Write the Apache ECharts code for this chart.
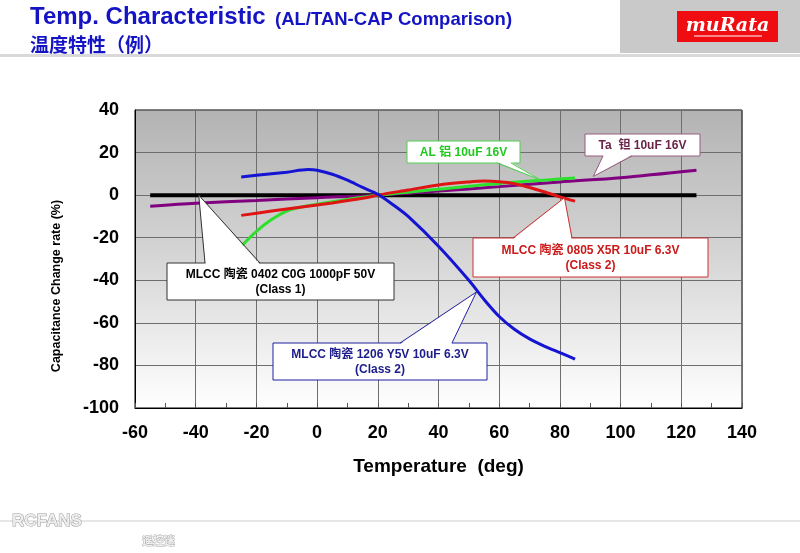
<!DOCTYPE html>
<html><head><meta charset="utf-8">
<script src="https://cdn.jsdelivr.net/npm/echarts/dist/echarts.min.js"></script>
<style>html,body{margin:0;padding:0;background:#fff}#c{width:800px;height:553px}</style>
</head><body><div id="c"></div>
<script>
// ---------- data ----------
const xTickLabels = [-60, -40, -20, 0, 20, 40, 60, 80, 100, 120, 140];
const yTickLabels = [-100, -80, -60, -40, -20, 0, 20, 40];

const c0gTemp = [-55, 125];
const c0gVal  = [0, 0];

const taTemp = [-55, -40, -20, 0, 20, 40, 60, 80, 100, 125];
const taVal  = [-5.2, -3.8, -2.5, -1.2, 0, 1.9, 4.0, 6.2, 8.2, 11.7];

const alTemp = [-25, -20, -15, -10, -5, 0, 10, 20, 40, 60, 85];
const alVal  = [-24, -17, -11.5, -7.5, -5.5, -4.3, -2, 0, 2.8, 5.5, 8];

const x5rTemp = [-25, -15, -5, 5, 15, 20, 30, 40, 50, 55, 60, 65, 70, 75, 80, 85];
const x5rVal  = [-9.5, -7.5, -5.6, -3.7, -1.5, 0, 2.4, 4.8, 6.2, 6.6, 6.3, 5.4, 3.6, 1.5, -0.8, -2.8];

const y5vTemp = [-25, -20, -10, -3, 0, 5, 10, 15, 20, 25, 30, 40, 50, 55, 60, 65, 70, 75, 80, 85];
const y5vVal  = [8.5, 9.3, 10.8, 12, 11.7, 9.8, 7, 3.6, 0.4, -4.5, -10, -24, -40, -49, -57, -63, -67.5, -71, -74, -77];

const calloutTexts = [
  'MLCC 陶瓷 0402 C0G 1000pF 50V\n(Class 1)',
  'MLCC 陶瓷 1206 Y5V 10uF 6.3V\n(Class 2)',
  'MLCC 陶瓷 0805 X5R 10uF 6.3V\n(Class 2)',
  'AL 铝 10uF 16V',
  'Ta  钽 10uF 16V'
];
const calloutAnchors = [[-39, 0], [52.5, -45.5], [81.5, -1.2], [73.5, 7.2], [91, 8.8]];

// ---------- chart ----------
const pairs = (xs, ys) => xs.map((x, i) => [x, ys[i]]);
const FONT = '"Liberation Sans", Arial, "Noto Sans CJK SC", sans-serif';
const chart = echarts.init(document.getElementById('c'), null, {renderer: 'canvas'});

const lineSeries = (name, xs, ys, color, w, smooth) => ({
  name, type: 'line', data: pairs(xs, ys), symbol: 'none', smooth: smooth,
  lineStyle: {color, width: w}, itemStyle: {color}, silent: true, animation: false
});

chart.setOption({
  animation: false,
  backgroundColor: '#ffffff',
  grid: {
    left: 135, top: 110, width: 607, height: 298, show: true,
    borderColor: '#000', borderWidth: 1,
    backgroundColor: new echarts.graphic.LinearGradient(0, 0, 0, 1, [
      {offset: 0, color: '#b3b3b3'}, {offset: 0.5, color: '#d6d6d6'}, {offset: 1, color: '#ffffff'}
    ])
  },
  xAxis: {
    type: 'value', min: xTickLabels[0], max: xTickLabels[xTickLabels.length - 1], interval: 20,
    axisLine: {show: true, onZero: false, lineStyle: {color: '#000', width: 1}},
    axisTick: {show: true, inside: true, length: 5, lineStyle: {color: '#555'}},
    minorTick: {show: true, splitNumber: 2, length: 5, lineStyle: {color: '#555'}},
    splitLine: {show: true, lineStyle: {color: '#6e6e6e', width: 1}},
    axisLabel: {color: '#000', fontFamily: FONT, fontWeight: 'bold', fontSize: 18, margin: 16},
    name: 'Temperature  (deg)', nameLocation: 'middle', nameGap: 49,
    nameTextStyle: {color: '#000', fontFamily: FONT, fontWeight: 'bold', fontSize: 19}
  },
  yAxis: {
    type: 'value', min: yTickLabels[0], max: yTickLabels[yTickLabels.length - 1], interval: 20,
    axisLine: {show: true, onZero: false, lineStyle: {color: '#000', width: 1}},
    axisTick: {show: false},
    splitLine: {show: true, lineStyle: {color: '#6e6e6e', width: 1}},
    axisLabel: {color: '#000', fontFamily: FONT, fontWeight: 'bold', fontSize: 18, margin: 16}
  },
  series: [
    lineSeries('C0G', c0gTemp, c0gVal, '#000000', 4, false),
    lineSeries('Ta', taTemp, taVal, '#800080', 3, 0.3),
    lineSeries('AL', alTemp, alVal, '#2ee02e', 3, 0.3),
    lineSeries('X5R', x5rTemp, x5rVal, '#e01414', 3, 0.3),
    lineSeries('Y5V', y5vTemp, y5vVal, '#1414d2', 3, 0.3)
  ]
});

// ---------- header / decorations / callouts ----------
const g = [];
g.push({type: 'rect', shape: {x: 620, y: 0, width: 180, height: 53}, style: {fill: '#c9c9c9'}, z: 1});
g.push({type: 'rect', shape: {x: 677, y: 11, width: 101, height: 31}, style: {fill: '#f00d12'}, z: 2});
g.push({type: 'text', x: 727.5, y: 26, style: {text: 'muRata', align: 'center', verticalAlign: 'middle',
  font: 'italic bold 19px "DejaVu Serif", "Liberation Serif", serif', fill: '#fff'}, z: 3});
g.push({type: 'line', shape: {x1: 694, y1: 36, x2: 762, y2: 36}, style: {stroke: '#fff', lineWidth: 1}, z: 3});
g.push({type: 'rect', shape: {x: 0, y: 54, width: 800, height: 3}, style: {fill: '#d9d9d9'}, z: 1});
g.push({type: 'text', x: 30, y: 17, style: {text: 'Temp. Characteristic', verticalAlign: 'middle',
  font: 'bold 24px ' + FONT, fill: '#1414c4'}, z: 3});
g.push({type: 'text', x: 275, y: 19.5, style: {text: '(AL/TAN-CAP Comparison)', verticalAlign: 'middle',
  font: 'bold 18.5px ' + FONT, fill: '#1414c4'}, z: 3});
g.push({type: 'text', x: 30, y: 45, style: {text: '温度特性（例）', verticalAlign: 'middle',
  font: 'bold 19px "Noto Sans CJK SC", sans-serif', fill: '#1414c4'}, z: 3});
g.push({type: 'text', x: 57, y: 286, rotation: Math.PI / 2, style: {text: 'Capacitance Change rate (%)',
  align: 'center', verticalAlign: 'middle', font: 'bold 12.5px ' + FONT, fill: '#000'}, z: 3});
g.push({type: 'rect', shape: {x: 0, y: 520, width: 800, height: 2}, style: {fill: '#e6e6e6'}, z: 1});
g.push({type: 'text', x: 12, y: 521, style: {text: 'RCFANS', verticalAlign: 'middle',
  font: 'bold 17px ' + FONT, fill: '#eeeeee', stroke: '#9a9a9a', lineWidth: 1}, z: 3});
g.push({type: 'text', x: 142, y: 541, style: {text: '遥控迷', verticalAlign: 'middle',
  font: 'bold 11px "Noto Sans CJK SC", sans-serif', fill: '#f0f0f0', stroke: '#a8a8a8', lineWidth: 0.8}, z: 3});

const calloutLayout = [
  {box: [167, 263, 227, 37], base: [205, 260], edge: 'top', stroke: '#333', color: '#000'},
  {box: [273, 343, 214, 37], base: [400, 452], edge: 'top', stroke: '#2020a0', color: '#1c1c8c'},
  {box: [473, 238, 235, 39], base: [513, 572], edge: 'top', stroke: '#d03030', color: '#cc1a1a'},
  {box: [407, 141, 113, 22], base: [497, 511], edge: 'bottom', stroke: '#50d050', color: '#22c822'},
  {box: [585, 134, 115, 22], base: [603, 632], edge: 'bottom', stroke: '#9a5a80', color: '#6a2448'}
];
calloutLayout.forEach((L, i) => {
  const tip = chart.convertToPixel({gridIndex: 0}, calloutAnchors[i]);
  const [bx, by, bw, bh] = L.box;
  const ey = L.edge === 'top' ? by : by + bh;
  const inner = L.edge === 'top' ? ey + 1 : ey - 1;
  g.push({type: 'rect', shape: {x: bx, y: by, width: bw, height: bh}, style: {fill: '#fff', stroke: L.stroke, lineWidth: 1}, z: 10});
  g.push({type: 'polygon', shape: {points: [[L.base[0] + 0.5, inner], [L.base[1] - 0.5, inner], tip]}, style: {fill: '#fff'}, z: 11});
  g.push({type: 'polyline', shape: {points: [[L.base[0], ey], tip, [L.base[1], ey]]}, style: {stroke: L.stroke, lineWidth: 1, fill: null}, z: 12});
  g.push({type: 'text', x: bx + bw / 2, y: by + bh / 2 + 0.5, style: {text: calloutTexts[i], align: 'center', verticalAlign: 'middle',
    font: 'bold 12px ' + FONT, fill: L.color, lineHeight: 15}, z: 13});
});
chart.setOption({graphic: g});
</script>
</body></html>
